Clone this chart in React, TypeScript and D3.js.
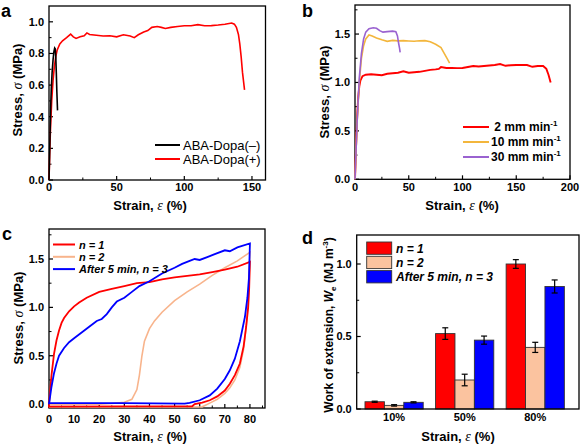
import React from 'react';
import * as d3 from 'd3';

type P = [number, number];

// ---------- Panel a ----------
const aDopaMinus: P[] = [[0,0],[0.4,0.15],[0.8,0.3],[1.2,0.45],[1.7,0.58],[2.3,0.68],[3,0.76],[3.6,0.81],[4.2,0.835],[4.6,0.83],[5,0.78],[5.4,0.68],[5.8,0.56],[6.3,0.44]];
const aDopaPlus: P[] = [[0,0],[0.5,0.15],[1,0.3],[2,0.5],[3,0.63],[4,0.72],[5,0.78],[6,0.82],[8,0.86],[10,0.88],[13,0.9],[16,0.922],[18,0.905],[20,0.895],[23,0.905],[26,0.912],[28,0.93],[30,0.92],[35,0.915],[40,0.91],[45,0.912],[50,0.905],[55,0.918],[60,0.91],[63,0.9],[66,0.918],[70,0.935],[73,0.945],[76,0.965],[80,0.97],[83,0.965],[86,0.958],[90,0.965],[95,0.97],[100,0.975],[105,0.975],[110,0.982],[115,0.975],[120,0.976],[125,0.98],[130,0.985],[135,0.992],[137,0.985],[138.5,0.965],[140,0.92],[141,0.86],[142,0.78],[143,0.68],[144.5,0.57]];

// ---------- Panel b ----------
const b2mm: P[] = [[0,0],[1,0.35],[2,0.65],[3,0.85],[4,0.96],[5,1.02],[7,1.065],[10,1.08],[15,1.085],[20,1.08],[25,1.075],[30,1.09],[35,1.095],[40,1.1],[45,1.115],[50,1.1],[55,1.105],[60,1.11],[65,1.12],[70,1.13],[75,1.135],[78,1.14],[80,1.16],[85,1.15],[90,1.15],[95,1.148],[100,1.15],[105,1.16],[110,1.17],[115,1.165],[120,1.17],[125,1.175],[130,1.18],[135,1.19],[140,1.172],[145,1.178],[150,1.18],[155,1.182],[160,1.18],[165,1.162],[170,1.17],[175,1.17],[178,1.14],[180,1.08],[182,1.0]];
const b10mm: P[] = [[0,0],[2,0.6],[4,1.0],[6,1.25],[8,1.38],[10,1.45],[13,1.49],[16,1.48],[20,1.46],[25,1.44],[30,1.425],[35,1.435],[40,1.43],[45,1.432],[50,1.428],[55,1.425],[60,1.43],[65,1.432],[70,1.42],[75,1.395],[80,1.36],[83,1.3],[86,1.24],[88,1.2]];
const b30mm: P[] = [[0,0],[2,0.6],[4,1.05],[6,1.3],[8,1.45],[10,1.52],[13,1.555],[17,1.565],[20,1.56],[23,1.535],[26,1.52],[30,1.525],[35,1.53],[38,1.525],[39.5,1.48],[40.5,1.41],[41.5,1.35],[42,1.31]];

// ---------- Panel c ----------
const cN1: P[] = [[0,0],[1,0.3],[2,0.52],[3,0.66],[4,0.76],[5,0.84],[6,0.89],[8,0.96],[10,1.01],[12,1.05],[15,1.1],[20,1.16],[25,1.19],[30,1.22],[35,1.25],[40,1.26],[45,1.29],[50,1.31],[55,1.325],[60,1.34],[65,1.365],[70,1.39],[75,1.42],[80,1.47],
  [79.7,1.2],[79.3,1.0],[78.5,0.8],[77.5,0.6],[76,0.42],[74,0.3],[72,0.21],[70,0.14],[67,0.08],[64,0.04],[61,0.015],[58,0.0],[57,-0.022],[30,-0.024],[0,-0.025],[0,0]];
const cN2: P[] = [[0,-0.005],[10,-0.003],[20,0.0],[25,0.006],[30,0.02],[33,0.05],[35,0.15],[36,0.3],[37,0.5],[38,0.65],[40,0.78],[42,0.86],[45,0.95],[50,1.07],[55,1.16],[60,1.24],[65,1.33],[70,1.41],[75,1.48],[80,1.57],
  [79.7,1.3],[79.3,1.05],[78.5,0.8],[77.5,0.57],[76,0.38],[74,0.25],[72,0.17],[70,0.11],[67,0.05],[64,0.01],[61,-0.028],[30,-0.03],[0,-0.03]];
const cN3: P[] = [[0,0],[1,0.18],[2,0.32],[3,0.42],[4,0.5],[6,0.58],[8,0.64],[10,0.68],[13,0.74],[16,0.8],[19,0.86],[21,0.88],[23,0.93],[25,1.0],[27,1.06],[30,1.1],[33,1.16],[36,1.22],[40,1.27],[45,1.35],[50,1.41],[53,1.45],[56,1.48],[58,1.5],[60,1.49],[63,1.52],[66,1.55],[70,1.59],[72,1.58],[75,1.62],[80,1.66],
  [79.6,1.3],[79,1.1],[78,0.9],[76,0.65],[74,0.47],[72,0.35],[70,0.26],[67,0.16],[64,0.09],[60,0.04],[56,0.012],[54,0.005],[30,0.01],[0,0.01],[0,0]];

// ---------- Panel d ----------
const dCategories = ['10%', '50%', '80%'];
const dSeriesNames = ['n = 1', 'n = 2', 'After 5 min, n = 3'];
const dN1 = [0.05, 0.52, 1.0];
const dN1Err = [0.004, 0.04, 0.03];
const dN2 = [0.025, 0.2, 0.425];
const dN2Err = [0.005, 0.04, 0.035];
const dN3 = [0.046, 0.475, 0.845];
const dN3Err = [0.004, 0.028, 0.045];

const aTicksX = [0, 50, 100, 150];
const aTicksY = [0, 0.2, 0.4, 0.6, 0.8, 1.0];
const bTicksX = [0, 50, 100, 150, 200];
const bTicksY = [0, 0.5, 1.0, 1.5];
const cTicksX = [0, 10, 20, 30, 40, 50, 60, 70, 80];
const cTicksY = [0, 0.5, 1.0, 1.5];
const dTicksY = [0, 0.5, 1.0];

const FONT = "'Liberation Sans', Arial, Helvetica, sans-serif";
const SERIF = "'Liberation Serif', 'DejaVu Serif', serif";
const RED = '#ff0000';
const PEACH = '#f8b48c';
const PEACH_BAR = '#fbc39f';
const BLUE = '#0000ff';
const GOLD = '#f3b63c';
const PURPLE = '#9a62d0';

type Lin = d3.ScaleLinear<number, number>;

function Frame({ x, y, xTicks, xMinor, yTicks, yMinor, xFmt, yFmt, xLabBase, noXTicks }: {
  x: Lin; y: Lin; xTicks: number[]; xMinor: number[]; yTicks: number[]; yMinor: number[];
  xFmt: (v: number) => string; yFmt: (v: number) => string; xLabBase: number; noXTicks?: boolean;
}) {
  const [x0, x1] = x.range();
  const [y0, y1] = y.range();
  return (
    <g>
      <rect x={x0} y={y1} width={x1 - x0} height={y0 - y1} fill="none" stroke="#000" strokeWidth={1.3} />
      {!noXTicks && xTicks.map((t) => (
        <g key={'xt' + t}>
          <line x1={x(t)} x2={x(t)} y1={y0} y2={y0 - 4} stroke="#000" strokeWidth={1.2} />
          <text x={x(t)} y={xLabBase} textAnchor="middle" fontFamily={FONT} fontWeight="bold" fontSize={11}>{xFmt(t)}</text>
        </g>
      ))}
      {!noXTicks && xMinor.map((t) => (
        <line key={'xm' + t} x1={x(t)} x2={x(t)} y1={y0} y2={y0 - 2.5} stroke="#000" strokeWidth={1} />
      ))}
      {yTicks.map((t) => (
        <g key={'yt' + t}>
          <line x1={x0} x2={x0 + 4} y1={y(t)} y2={y(t)} stroke="#000" strokeWidth={1.2} />
          <text x={x0 - 5} y={y(t)} dy="0.36em" textAnchor="end" fontFamily={FONT} fontWeight="bold" fontSize={11}>{yFmt(t)}</text>
        </g>
      ))}
      {yMinor.map((t) => (
        <line key={'ym' + t} x1={x0} x2={x0 + 2.5} y1={y(t)} y2={y(t)} stroke="#000" strokeWidth={1} />
      ))}
    </g>
  );
}

function StrainTitle({ cx, base }: { cx: number; base: number }) {
  return (
    <text x={cx} y={base} textAnchor="middle" fontFamily={FONT} fontWeight="bold" fontSize={13}>
      Strain, <tspan fontFamily={SERIF} fontStyle="italic" fontWeight="normal" fontSize={14}>ε</tspan> (%)
    </text>
  );
}

function StressTitle({ bx, cy }: { bx: number; cy: number }) {
  return (
    <text transform={`translate(${bx},${cy}) rotate(-90)`} textAnchor="middle" fontFamily={FONT} fontWeight="bold" fontSize={13}>
      Stress, <tspan fontFamily={SERIF} fontStyle="italic" fontWeight="normal" fontSize={14}>σ</tspan> (MPa)
    </text>
  );
}

function PanelLabel({ x, y, t }: { x: number; y: number; t: string }) {
  return <text x={x} y={y} fontFamily={FONT} fontWeight="bold" fontSize={18}>{t}</text>;
}

function path(x: Lin, y: Lin, pts: P[]) {
  return d3.line<P>().x((p) => x(p[0])).y((p) => y(p[1]))(pts) || '';
}

export default function App() {
  // panel a
  const ax = d3.scaleLinear().domain([0, 160]).range([49, 265.5]);
  const ay = d3.scaleLinear().domain([0, 1.1]).range([180, 6]);
  // panel b
  const bx = d3.scaleLinear().domain([0, 200]).range([355, 570]);
  const by = d3.scaleLinear().domain([0, 1.8]).range([179.3, 5]);
  // panel c
  const cx = d3.scaleLinear().domain([0, 86]).range([49, 265]);
  const cy = d3.scaleLinear().domain([-0.04, 1.81]).range([408, 229]);
  // panel d
  const dx = d3.scaleLinear().domain([0.47, 3.62]).range([356.7, 579]);
  const dy = d3.scaleLinear().domain([0, 1.2]).range([409, 235]);
  const barW = 0.275;
  const dVals = [dN1, dN2, dN3];
  const dErrs = [dN1Err, dN2Err, dN3Err];
  const dColors = [RED, PEACH_BAR, BLUE];

  const f1 = d3.format('.1f');
  const f0 = d3.format('d');

  return (
    <svg width={581} height={446} style={{ position: 'absolute', left: 0, top: 0, background: '#fff' }}>
      <rect width={581} height={446} fill="#fff" />

      {/* ---------- a ---------- */}
      <PanelLabel x={1} y={17} t="a" />
      <Frame x={ax} y={ay} xTicks={aTicksX} xMinor={[25, 75, 125]} yTicks={aTicksY} yMinor={[0.1, 0.3, 0.5, 0.7, 0.9]} xFmt={f0} yFmt={f1} xLabBase={191} />
      <path d={path(ax, ay, aDopaPlus)} fill="none" stroke={RED} strokeWidth={1.6} />
      <path d={path(ax, ay, aDopaMinus)} fill="none" stroke="#000" strokeWidth={1.6} />
      <line x1={155} x2={180} y1={145} y2={145} stroke="#000" strokeWidth={2} />
      <line x1={155} x2={180} y1={159} y2={159} stroke={RED} strokeWidth={2} />
      <text x={183} y={149.5} fontFamily={FONT} fontSize={13}>ABA-Dopa(–)</text>
      <text x={183} y={163.5} fontFamily={FONT} fontSize={13}>ABA-Dopa(+)</text>
      <StrainTitle cx={150} base={210} />
      <StressTitle bx={22} cy={90} />

      {/* ---------- b ---------- */}
      <PanelLabel x={302} y={17} t="b" />
      <Frame x={bx} y={by} xTicks={bTicksX} xMinor={[25, 75, 125, 175]} yTicks={bTicksY} yMinor={[0.25, 0.75, 1.25, 1.75]} xFmt={f0} yFmt={f1} xLabBase={191} />
      <path d={path(bx, by, b2mm)} fill="none" stroke={RED} strokeWidth={1.9} />
      <path d={path(bx, by, b10mm)} fill="none" stroke={GOLD} strokeWidth={1.6} />
      <path d={path(bx, by, b30mm)} fill="none" stroke={PURPLE} strokeWidth={1.6} />
      <line x1={463} x2={489} y1={127} y2={127} stroke={RED} strokeWidth={2} />
      <line x1={463} x2={489} y1={142} y2={142} stroke={GOLD} strokeWidth={2} />
      <line x1={463} x2={489} y1={157} y2={157} stroke={PURPLE} strokeWidth={2} />
      {['\u00A02', '10', '30'].map((s, i) => (
        <text key={s} x={491} y={131 + i * 15} fontFamily={FONT} fontWeight="bold" fontSize={12}>
          {s} mm min<tspan dy={-5} fontSize={8}>-1</tspan>
        </text>
      ))}
      <StrainTitle cx={462} base={210} />
      <StressTitle bx={329} cy={92} />

      {/* ---------- c ---------- */}
      <PanelLabel x={2} y={240} t="c" />
      <Frame x={cx} y={cy} xTicks={cTicksX} xMinor={[5, 15, 25, 35, 45, 55, 65, 75, 85]} yTicks={cTicksY} yMinor={[0.25, 0.75, 1.25, 1.75]} xFmt={f0} yFmt={f1} xLabBase={423} />
      <path d={path(cx, cy, cN2)} fill="none" stroke={PEACH} strokeWidth={1.6} />
      <path d={path(cx, cy, cN1)} fill="none" stroke={RED} strokeWidth={1.8} />
      <path d={path(cx, cy, cN3)} fill="none" stroke={BLUE} strokeWidth={1.8} />
      {[RED, PEACH, BLUE].map((c, i) => (
        <line key={c} x1={53} x2={75} y1={244.5 + i * 12.3} y2={244.5 + i * 12.3} stroke={c} strokeWidth={2} />
      ))}
      {dSeriesNames.map((s, i) => (
        <text key={s} x={79} y={248.5 + i * 12.3} fontFamily={FONT} fontWeight="bold" fontStyle="italic" fontSize={11}>{s}</text>
      ))}
      <StrainTitle cx={150} base={441} />
      <StressTitle bx={23} cy={318} />

      {/* ---------- d ---------- */}
      <PanelLabel x={302} y={244} t="d" />
      {dCategories.map((cat, ci) => (
        <g key={cat}>
          {dVals.map((vals, si) => {
            const center = ci + 1 + (si - 1) * barW;
            const left = dx(center - barW / 2);
            const right = dx(center + barW / 2);
            const v = vals[ci];
            const e = dErrs[si][ci];
            const mid = dx(center);
            return (
              <g key={si}>
                <rect x={left} y={dy(v)} width={right - left} height={dy(0) - dy(v)} fill={dColors[si]} stroke="#333" strokeWidth={0.9} />
                <line x1={mid} x2={mid} y1={dy(v - e)} y2={dy(v + e)} stroke="#000" strokeWidth={1.2} />
                <line x1={mid - 3} x2={mid + 3} y1={dy(v + e)} y2={dy(v + e)} stroke="#000" strokeWidth={1.2} />
                <line x1={mid - 3} x2={mid + 3} y1={dy(v - e)} y2={dy(v - e)} stroke="#000" strokeWidth={1.2} />
              </g>
            );
          })}
          <text x={dx(ci + 1)} y={421} textAnchor="middle" fontFamily={FONT} fontWeight="bold" fontSize={11}>{cat}</text>
        </g>
      ))}
      <Frame x={dx} y={dy} xTicks={[]} xMinor={[]} yTicks={dTicksY} yMinor={[0.25, 0.75]} xFmt={f0} yFmt={f1} xLabBase={421} noXTicks />
      {dColors.map((c, i) => (
        <rect key={c} x={366.7} y={242 + i * 14.3} width={25} height={12.3} fill={c} stroke="#333" strokeWidth={0.9} />
      ))}
      {dSeriesNames.map((s, i) => (
        <text key={s} x={396} y={252.5 + i * 14.3} fontFamily={FONT} fontWeight="bold" fontStyle="italic" fontSize={12}>{s}</text>
      ))}
      <StrainTitle cx={458} base={441} />
      <text transform="translate(333,325) rotate(-90)" textAnchor="middle" fontFamily={FONT} fontWeight="bold" fontSize={12}>
        Work of extension, <tspan fontStyle="italic">W</tspan><tspan fontSize={8} dy={3}>e</tspan><tspan dy={-3}> (MJ m</tspan><tspan fontSize={8} dy={-5}>-3</tspan><tspan dy={5}>)</tspan>
      </text>
    </svg>
  );
}
